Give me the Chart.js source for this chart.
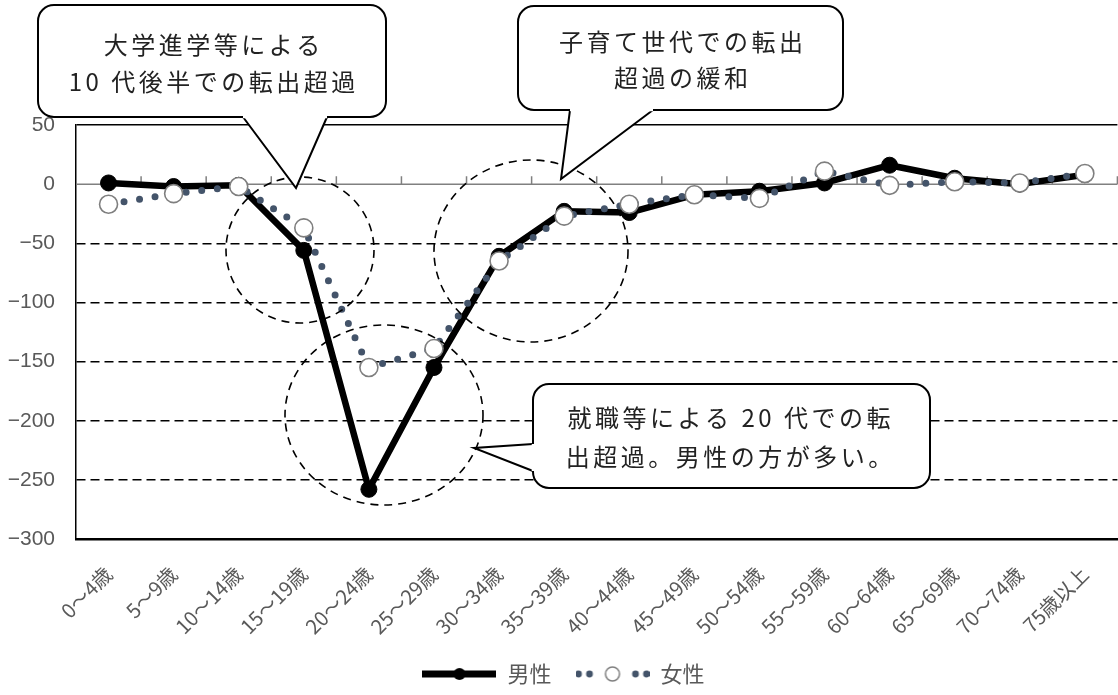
<!DOCTYPE html>
<html lang="ja">
<head>
<meta charset="utf-8">
<title>年齢階級別 転入超過数</title>
<script src="https://cdn.jsdelivr.net/npm/chart.js@4/dist/chart.umd.min.js"></script>
<style>
  html, body { margin: 0; padding: 0; background: #fff; overflow: hidden; }
  #wrap { width: 1128px; height: 695px; position: relative; }
</style>
</head>
<body>
<div id="wrap"><canvas id="migration-chart"></canvas></div>
<script>
// 年齢階級
const ageGroups = ['0～4歳', '5～9歳', '10～14歳', '15～19歳', '20～24歳', '25～29歳', '30～34歳', '35～39歳',
    '40～44歳', '45～49歳', '50～54歳', '55～59歳', '60～64歳', '65～69歳', '70～74歳', '75歳以上'];

// 転入超過数（人）
const maleValues = [1, -2, -1, -56, -258, -155, -61, -23, -24, -9, -6, 1, 16, 5, 0, 8];
const femaleValues = [-17, -8, -2, -37, -155, -139, -65, -27, -17, -9, -12, 11, -1, 2, 1, 9];

// 縦軸目盛
const yTicks = [50, 0, -50, -100, -150, -200, -250, -300];

const seriesNames = ['男性', '女性'];

const JP_FONT = '"Noto Sans CJK JP", "Noto Sans", sans-serif';
const NUM_FONT = '"Liberation Sans", Arial, sans-serif';
const FEMALE_DOT = '#44546A';

// 吹き出し
const callouts = [
    { box: [38, 5, 386, 117], tail: [[243, 117], [296, 188], [327, 117]],
      lines: ['大学進学等による', '10 代後半での転出超過'], cx: 212, cy: [45, 82] },
    { box: [518, 6, 843, 110], tail: [[570, 110], [561, 179], [653, 110]],
      lines: ['子育て世代での転出', '超過の緩和'], cx: 681, cy: [42, 78] },
    { box: [533, 384, 930, 488], tail: [[533, 444], [474, 448], [533, 471]],
      lines: ['就職等による 20 代での転', '出超過。男性の方が多い。'], cx: 729, cy: [418, 457] }
];

// 破線の円
const rings = [
    { x: 300, y: 250, rx: 74, ry: 73 },
    { x: 384, y: 415, rx: 99, ry: 90 },
    { x: 531, y: 251, rx: 97, ry: 91 }
];

// 凡例アイコン（線＋マーカー）
function makeLegendIcon(isMale) {
    const c = document.createElement('canvas');
    c.width = 74;
    c.height = 20;
    const g = c.getContext('2d');
    if (isMale) {
        g.strokeStyle = '#000';
        g.lineWidth = 7;
        g.beginPath();
        g.moveTo(0, 10);
        g.lineTo(74, 10);
        g.stroke();
        g.fillStyle = '#000';
        g.beginPath();
        g.arc(37, 10, 6, 0, Math.PI * 2);
        g.fill();
    } else {
        g.fillStyle = FEMALE_DOT;
        [3, 14, 60, 71].forEach(function(px) {
            g.beginPath();
            g.arc(px, 10, 3.4, 0, Math.PI * 2);
            g.fill();
        });
        g.fillStyle = '#fff';
        g.strokeStyle = '#7F7F7F';
        g.lineWidth = 1.5;
        g.beginPath();
        g.arc(37, 10, 7, 0, Math.PI * 2);
        g.fill();
        g.stroke();
    }
    return c;
}
const legendIcons = [makeLegendIcon(true), makeLegendIcon(false)];

function roundRectPath(ctx, x1, y1, x2, y2, r) {
    ctx.moveTo(x1 + r, y1);
    ctx.lineTo(x2 - r, y1);
    ctx.arcTo(x2, y1, x2, y1 + r, r);
    ctx.lineTo(x2, y2 - r);
    ctx.arcTo(x2, y2, x2 - r, y2, r);
    ctx.lineTo(x1 + r, y2);
    ctx.arcTo(x1, y2, x1, y2 - r, r);
    ctx.lineTo(x1, y1 + r);
    ctx.arcTo(x1, y1, x1 + r, y1, r);
    ctx.closePath();
}

const decorPlugin = {
    id: 'decor',
    beforeDatasetsDraw(chart) {
        // 0 の横軸線と目盛
        const { ctx, chartArea, scales: { x, y } } = chart;
        const y0 = y.getPixelForValue(0);
        const step = x.width / ageGroups.length;
        ctx.save();
        ctx.strokeStyle = '#808080';
        ctx.lineWidth = 1.5;
        ctx.beginPath();
        ctx.moveTo(chartArea.left, y0);
        ctx.lineTo(chartArea.right, y0);
        for (let i = 1; i <= ageGroups.length; i++) {
            const px = x.left + i * step;
            ctx.moveTo(px, y0);
            ctx.lineTo(px, y0 - 8);
        }
        ctx.stroke();
        ctx.restore();
    },
    afterDatasetsDraw(chart) {
        const ctx = chart.ctx;
        ctx.save();
        // 破線の円
        ctx.strokeStyle = '#000';
        ctx.lineWidth = 1.6;
        ctx.setLineDash([8, 6]);
        rings.forEach(function(r) {
            ctx.beginPath();
            ctx.ellipse(r.x, r.y, r.rx, r.ry, 0, 0, Math.PI * 2);
            ctx.stroke();
        });
        ctx.setLineDash([]);

        // 吹き出し
        callouts.forEach(function(c) {
            const [x1, y1, x2, y2] = c.box;
            ctx.beginPath();
            roundRectPath(ctx, x1, y1, x2, y2, 16);
            ctx.fillStyle = '#fff';
            ctx.fill();
            ctx.lineWidth = 2;
            ctx.strokeStyle = '#000';
            ctx.stroke();

            // 尾
            ctx.beginPath();
            ctx.moveTo(c.tail[0][0], c.tail[0][1]);
            ctx.lineTo(c.tail[1][0], c.tail[1][1]);
            ctx.lineTo(c.tail[2][0], c.tail[2][1]);
            ctx.closePath();
            ctx.fill();
            ctx.beginPath();
            ctx.moveTo(c.tail[0][0], c.tail[0][1]);
            ctx.lineTo(c.tail[1][0], c.tail[1][1]);
            ctx.lineTo(c.tail[2][0], c.tail[2][1]);
            ctx.stroke();
            // 尾の付け根の枠線を消す
            ctx.beginPath();
            ctx.moveTo(c.tail[0][0], c.tail[0][1]);
            ctx.lineTo(c.tail[2][0], c.tail[2][1]);
            ctx.lineWidth = 2.5;
            ctx.strokeStyle = '#fff';
            ctx.stroke();

            ctx.fillStyle = '#222';
            ctx.font = '24px ' + JP_FONT;
            ctx.textAlign = 'center';
            ctx.textBaseline = 'middle';
            ctx.letterSpacing = '3.5px';
            c.lines.forEach(function(t, i) {
                ctx.fillText(t, c.cx + 1.75, c.cy[i]);
            });
            ctx.letterSpacing = '0px';
        });
        ctx.restore();
    }
};

const ctx = document.getElementById('migration-chart').getContext('2d');
const migrationChart = new Chart(ctx, {
    type: 'line',
    data: {
        labels: ageGroups,
        datasets: [{
            label: seriesNames[0],
            data: maleValues,
            order: 1,
            borderColor: '#000',
            borderWidth: 6.5,
            borderJoinStyle: 'round',
            pointRadius: 8,
            pointBackgroundColor: '#000',
            pointBorderColor: '#000',
            pointBorderWidth: 1,
            tension: 0
        }, {
            label: seriesNames[1],
            data: femaleValues,
            order: 0,
            borderColor: FEMALE_DOT,
            borderWidth: 7,
            borderDash: [0, 15.7],
            borderCapStyle: 'round',
            pointRadius: 9,
            pointBackgroundColor: '#fff',
            pointBorderColor: '#7F7F7F',
            pointBorderWidth: 1.6,
            tension: 0
        }]
    },
    options: {
        responsive: true,
        maintainAspectRatio: false,
        animation: false,
        layout: { padding: { top: 125, right: 1, left: 0, bottom: 0 } },
        scales: {
            x: {
                offset: true,
                grid: { display: false },
                border: { display: true, color: '#000', width: 2.5 },
                ticks: {
                    autoSkip: false,
                    maxRotation: 45,
                    minRotation: 45,
                    padding: 15,
                    color: '#595959',
                    font: { size: 20, family: JP_FONT }
                },
                afterFit(scale) {
                    scale.height = 100;
                }
            },
            y: {
                min: Math.min(...yTicks),
                max: Math.max(...yTicks),
                afterBuildTicks(scale) {
                    scale.ticks = yTicks.map(v => ({ value: v }));
                },
                afterFit(scale) {
                    scale.width = 76;
                },
                grid: {
                    drawTicks: false,
                    lineWidth: 1.5,
                    color: function(c) {
                        return c.tick && c.tick.value === 0 ? 'rgba(0,0,0,0)' : '#000';
                    }
                },
                border: {
                    display: true,
                    color: '#000',
                    width: 1.5,
                    dash: function(c) {
                        return c.tick && c.tick.value < 0 && c.tick.value > -300 ? [9, 5] : [];
                    }
                },
                ticks: {
                    padding: 21,
                    color: '#595959',
                    font: { size: 21, family: NUM_FONT },
                    callback: function(v) {
                        return v < 0 ? '−' + Math.abs(v) : String(v);
                    }
                }
            }
        },
        plugins: {
            tooltip: { enabled: false },
            legend: {
                position: 'bottom',
                labels: {
                    usePointStyle: true,
                    pointStyleWidth: 74,
                    padding: 24,
                    color: '#595959',
                    font: { size: 22, family: JP_FONT },
                    generateLabels: function(chart) {
                        return chart.data.datasets.map(function(ds, i) {
                            return {
                                text: ds.label,
                                pointStyle: legendIcons[i],
                                fillStyle: '#fff',
                                strokeStyle: '#fff',
                                lineWidth: 0,
                                fontColor: '#595959',
                                hidden: false,
                                datasetIndex: i
                            };
                        });
                    }
                }
            }
        }
    },
    plugins: [decorPlugin]
});
</script>
</body>
</html>
